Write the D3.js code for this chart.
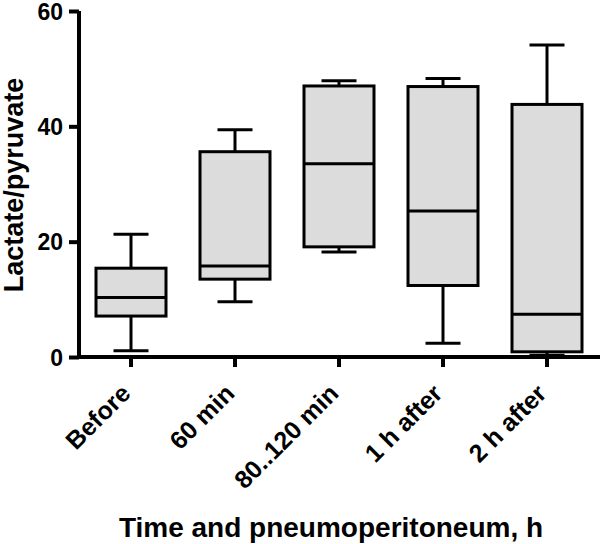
<!DOCTYPE html>
<html>
<head>
<meta charset="utf-8">
<script src="https://cdn.jsdelivr.net/npm/d3@7"></script>
<style>
  html, body { margin: 0; padding: 0; background: #fff; }
  svg { display: block; }
  text { font-family: "Liberation Sans", Arial, Helvetica, sans-serif; font-weight: bold; fill: #000; }
</style>
</head>
<body>
<svg id="chart" width="600" height="544"></svg>
<script>
const categories = ["Before", "60 min", "80..120 min", "1 h after", "2 h after"];
const whiskerLow  = [1.1, 9.6, 18.2, 2.4, 0.3];
const q1          = [7.1, 13.5, 19.1, 12.4, 0.9];
const median      = [10.3, 15.8, 33.5, 25.3, 7.4];
const q3          = [15.4, 35.6, 47.0, 46.9, 43.8];
const whiskerHigh = [21.3, 39.4, 47.9, 48.3, 54.1];
const yTicks = [0, 20, 40, 60];
const xTitle = "Time and pneumoperitoneum, h";
const yTitle = "Lactate/pyruvate";

const data = categories.map((c, i) => ({
  cat: c, lo: whiskerLow[i], q1: q1[i], med: median[i], q3: q3[i], hi: whiskerHigh[i]
}));

const svg = d3.select("#chart");
const pLeft = 79, pRight = 599, pTop = 11, pBottom = 357;

const x = d3.scaleBand().domain(categories).range([pLeft, pRight]).paddingInner(0).paddingOuter(0);
const y = d3.scaleLinear().domain([0, 60]).range([pBottom, pTop]);

const boxW = 70, capW = 35;

// Y axis
const yAxis = svg.append("g").attr("transform", `translate(${pLeft},0)`)
  .call(d3.axisLeft(y).tickValues(yTicks).tickSize(10).tickPadding(6).tickSizeOuter(0));
yAxis.select(".domain").attr("stroke", "#000").attr("stroke-width", 4)
  .attr("d", `M0,${pTop}V${pBottom + 2}`);
yAxis.selectAll(".tick line").attr("stroke", "#000").attr("stroke-width", 4);
yAxis.selectAll(".tick text").style("font-size", "23px").style("font-weight", "bold")
  .style("font-family", '"Liberation Sans", Arial, sans-serif').attr("fill", "#000").attr("dy", "0.36em");

// X axis
const xAxis = svg.append("g").attr("transform", `translate(0,${pBottom})`)
  .call(d3.axisBottom(x).tickSize(10).tickSizeOuter(0));
xAxis.select(".domain").attr("stroke", "#000").attr("stroke-width", 4)
  .attr("d", `M${pLeft - 2},0H600`);
xAxis.selectAll(".tick line").attr("stroke", "#000").attr("stroke-width", 4);
xAxis.selectAll(".tick text").remove();
xAxis.selectAll(".tick").append("text")
  .attr("text-anchor", "end")
  .attr("transform", "translate(1,38) rotate(-45)")
  .style("font-size", "25px")
  .text(d => d);

// Boxes
const g = svg.append("g");
const cx = d => x(d.cat) + x.bandwidth() / 2;
const box = g.selectAll(".box").data(data).enter().append("g").attr("class", "box");

box.append("line")
  .attr("x1", cx).attr("x2", cx)
  .attr("y1", d => y(d.hi)).attr("y2", d => y(d.q3))
  .attr("stroke", "#000").attr("stroke-width", 3);
box.append("line")
  .attr("x1", cx).attr("x2", cx)
  .attr("y1", d => y(d.q1)).attr("y2", d => y(d.lo))
  .attr("stroke", "#000").attr("stroke-width", 3);
box.append("line")
  .attr("x1", d => cx(d) - capW / 2).attr("x2", d => cx(d) + capW / 2)
  .attr("y1", d => y(d.hi)).attr("y2", d => y(d.hi))
  .attr("stroke", "#000").attr("stroke-width", 3);
box.append("line")
  .attr("x1", d => cx(d) - capW / 2).attr("x2", d => cx(d) + capW / 2)
  .attr("y1", d => y(d.lo)).attr("y2", d => y(d.lo))
  .attr("stroke", "#000").attr("stroke-width", 3);
box.append("rect")
  .attr("x", d => cx(d) - boxW / 2).attr("width", boxW)
  .attr("y", d => y(d.q3)).attr("height", d => y(d.q1) - y(d.q3))
  .attr("fill", "#dcdcdc").attr("stroke", "#000").attr("stroke-width", 3);
box.append("line")
  .attr("x1", d => cx(d) - boxW / 2).attr("x2", d => cx(d) + boxW / 2)
  .attr("y1", d => y(d.med)).attr("y2", d => y(d.med))
  .attr("stroke", "#000").attr("stroke-width", 3);

// Titles
svg.append("text")
  .attr("x", 331).attr("y", 537)
  .attr("text-anchor", "middle")
  .style("font-size", "28px")
  .text(xTitle);

svg.append("text")
  .attr("transform", `translate(23,185) rotate(-90)`)
  .attr("text-anchor", "middle")
  .style("font-size", "27px")
  .text(yTitle);
</script>
</body>
</html>
